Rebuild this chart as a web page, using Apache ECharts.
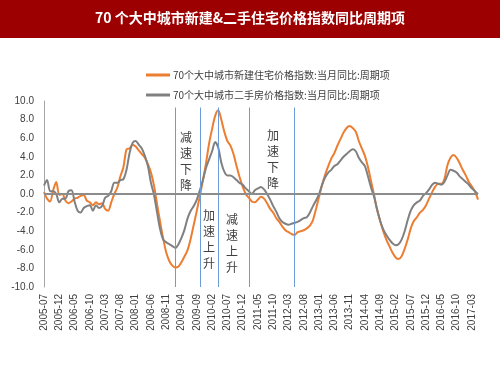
<!DOCTYPE html>
<html>
<head>
<meta charset="utf-8">
<script src="https://cdn.jsdelivr.net/npm/echarts@6/dist/echarts.min.js"></script>
<style>
  html, body { margin: 0; padding: 0; background: #fff; }
  #main { width: 500px; height: 375px; }
</style>
</head>
<body>
<div id="main"></div>
<script>
// months 2005-07 .. 2017-05
var months = [];
(function () {
  var y = 2005, m = 7;
  for (var k = 0; k < 143; k++) {
    months.push(y + '-' + (m < 10 ? '0' + m : m));
    m++;
    if (m > 12) { m = 1; y++; }
  }
})();

var newHouse = [
  0.2, -0.5, -0.8, 0.4, 1.3, -0.1, 0.0, -0.7, -1.0, -0.8,
  -0.5, -0.4, -0.2, -0.1, -0.7, -0.9, -1.2, -0.9, -1.1, -1.0,
  -1.6, -1.8, -0.9, 0.0, 0.7, 1.9, 2.9, 4.8, 4.9, 5.3,
  5.1, 4.7, 4.3, 3.9, 3.2, 2.3, 0.9, -1.1, -3.0, -4.8,
  -6.3, -7.2, -7.7, -7.9, -7.8, -7.3, -6.7, -6.0, -4.8, -3.3,
  -1.8, -0.2, 1.5, 3.3, 5.4, 7.0, 8.4, 9.0, 8.0, 6.7,
  5.7, 5.2, 4.3, 3.0, 1.8, 0.8, 0.0, -0.4, -0.8, -0.9,
  -0.6, -0.3, -0.5, -1.0, -1.6, -2.0, -2.6, -3.0, -3.5, -3.9,
  -4.1, -4.3, -4.4, -4.1, -4.0, -3.9, -3.7, -3.4, -2.8, -1.6,
  -0.3, 1.0, 2.1, 3.0, 3.8, 4.4, 5.2, 5.9, 6.6, 7.1,
  7.3, 7.1, 6.7, 5.7, 4.9, 4.1, 2.9, 1.4, -0.1, -1.7,
  -2.9, -4.0, -4.9, -5.6, -6.3, -6.8, -7.0, -6.7, -5.9, -4.9,
  -3.7, -2.9, -2.5, -2.0, -1.7, -1.2, -0.5, 0.2, 0.8, 1.1,
  1.1, 1.6, 3.1, 3.9, 4.2, 3.9, 3.3, 2.6, 2.0, 1.3,
  0.8, 0.3, -0.6
];

var secondHand = [
  0.9, 1.5, 0.3, 0.3, 0.0, -0.9, -0.5, -0.5, 0.3, 0.4,
  -0.8, -1.8, -2.0, -1.5, -1.3, -1.2, -1.8, -1.2, -1.5, -1.3,
  -0.4, -0.2, 0.3, 1.2, 1.2, 1.5, 1.6, 2.6, 4.4, 5.5,
  5.7, 5.3, 4.9, 4.1, 3.0, 1.2, -0.1, -2.0, -3.8, -4.9,
  -5.2, -5.4, -5.6, -5.8, -5.4, -4.7, -3.8, -2.6, -1.8, -1.3,
  -0.6, 0.4, 1.5, 2.8, 3.7, 4.6, 5.6, 5.0, 3.4, 2.4,
  2.0, 2.0, 1.8, 1.5, 1.2, 1.0, 0.6, 0.3, 0.0, 0.4,
  0.6, 0.75, 0.5, 0.0, -0.6, -1.3, -1.9, -2.6, -3.0, -3.2,
  -3.3, -3.2, -3.1, -3.0, -2.8, -2.6, -2.5, -2.0, -1.3, -0.7,
  0.0, 1.0, 1.8, 2.3, 2.6, 3.0, 3.2, 3.6, 4.0, 4.3,
  4.6, 4.8, 4.6, 3.9, 3.4, 3.0, 1.9, 0.7, -0.3, -1.7,
  -2.9, -3.8, -4.4, -4.9, -5.3, -5.5, -5.4, -4.9, -4.0, -2.8,
  -1.8, -1.2, -0.9, -0.7, -0.2, 0.1, 0.5, 1.0, 1.2, 1.1,
  1.0, 1.3, 2.0, 2.6, 2.5, 2.3, 1.9, 1.6, 1.3, 1.0,
  0.6, 0.3, 0.0
];

// phase boundaries (vertical blue lines)
var phaseMonths = ['2009-02', '2009-10', '2010-04', '2011-02', '2012-05'];
var seriesNames = ['70个大中城市新建住宅价格指数:当月同比:周期项', '70个大中城市二手房价格指数:当月同比:周期项'];

var cjk = '"Noto Sans CJK SC", sans-serif';

var myChart = echarts.init(document.getElementById('main'));

var vLines = [];
for (var i = 0; i < phaseMonths.length; i++) {
  vLines.push([{ coord: [phaseMonths[i], 9.3] }, { coord: [phaseMonths[i], -10] }]);
}

function note(x, y, txt) {
  return {
    type: 'text', left: x - 7, top: y,
    style: {
      text: txt.split('').join('\n'), fill: '#404040',
      font: '12px ' + cjk, lineHeight: 16
    }
  };
}

var option = {
  animation: false,
  graphic: [
    { type: 'rect', left: 0, top: 0, shape: { width: 500, height: 38 }, style: { fill: '#9c0000' } },
    {
      type: 'text', left: 'center', top: 11,
      style: { text: '70 个大中城市新建&二手住宅价格指数同比周期项', fill: '#fff', font: 'bold 14px ' + cjk }
    },
    note(187, 129, '减速下降'),
    note(210, 207, '加速上升'),
    note(233, 211, '减速上升'),
    note(274, 127, '加速下降')
  ],
  legend: {
    orient: 'vertical',
    left: 141,
    top: 65,
    icon: 'rect',
    itemWidth: 24,
    itemHeight: 3,
    itemGap: 10,
    textStyle: { color: '#404040', fontSize: 10, fontFamily: cjk, padding: [0, 0, 0, -2] },
    data: seriesNames
  },
  grid: { left: 44, right: 22, top: 101, bottom: 88 },
  xAxis: {
    type: 'category',
    boundaryGap: false,
    data: months,
    axisLine: { show: false },
    axisTick: { show: false },
    axisLabel: {
      interval: 4, rotate: 90, margin: 7,
      color: '#404040', fontSize: 10, fontFamily: 'Liberation Sans, Arial'
    }
  },
  yAxis: {
    type: 'value',
    min: -10, max: 10, interval: 2,
    splitLine: { show: false },
    axisTick: { show: false },
    axisLine: { show: true, lineStyle: { color: '#a6a6a6', width: 1 } },
    axisLabel: {
      margin: 10, color: '#404040', fontSize: 10, fontFamily: 'Liberation Sans, Arial',
      formatter: function (v) { return v.toFixed(1); }
    }
  },
  series: [
    {
      name: seriesNames[0],
      type: 'line',
      data: newHouse,
      symbol: 'none',
      smooth: 0.3,
      lineStyle: { color: '#ED7D31', width: 2 },
      itemStyle: { color: '#ED7D31' },
      markLine: {
        silent: true,
        symbol: 'none',
        label: { show: false },
        lineStyle: { color: '#6b9bd8', width: 1, type: 'solid' },
        data: vLines
      }
    },
    {
      name: seriesNames[1],
      type: 'line',
      data: secondHand,
      symbol: 'none',
      smooth: 0.3,
      lineStyle: { color: '#808080', width: 2 },
      itemStyle: { color: '#808080' },
      markLine: {
        silent: true,
        symbol: 'none',
        label: { show: false },
        lineStyle: { color: '#8c8c8c', width: 2, type: 'solid' },
        data: [{ yAxis: 0 }]
      }
    }
  ]
};

myChart.setOption(option);
</script>
</body>
</html>
